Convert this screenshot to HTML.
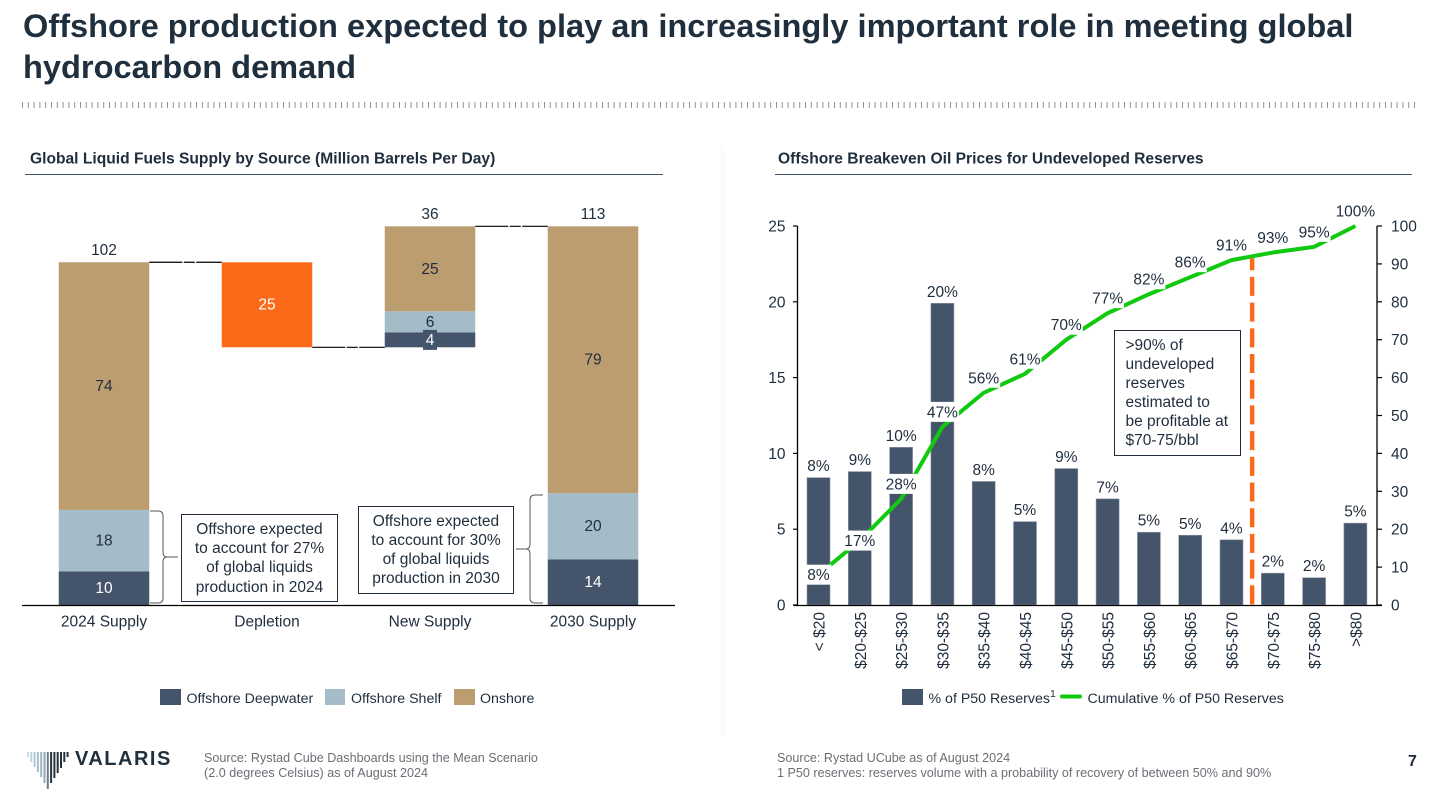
<!DOCTYPE html>
<html lang="en">
<head>
<meta charset="utf-8">
<title>Offshore production</title>
<style>
html,body{margin:0;padding:0;background:#fff;width:1438px;height:801px;overflow:hidden}
svg{display:block;font-family:"Liberation Sans",Arial,sans-serif}
.t{fill:#1f2d3d;font-size:15.5px}
.lg{fill:#1f2d3d;font-size:14.2px}
.src{fill:#6a6f75;font-size:12.6px}
</style>
</head>
<body>
<svg id="page" xmlns="http://www.w3.org/2000/svg" width="1438" height="801" viewBox="0 0 1438 801">
  <defs>
    <pattern id="tickpat" width="5.8" height="6" patternUnits="userSpaceOnUse" x="22" y="102"><rect width="1" height="6" fill="#8f8f8f"/></pattern>
  </defs>
  <rect width="1438" height="801" fill="#fff"/>
  <rect x="720" y="146" width="6" height="590" fill="#fcfcfc"/>
  <g font-weight="700" font-size="32.6px" fill="#1f2f3d">
    <text x="23" y="37">Offshore production expected to play an increasingly important role in meeting global</text>
    <text x="23" y="78">hydrocarbon demand</text>
  </g>
  <rect x="22" y="102" width="1396" height="6" fill="url(#tickpat)"/>

  <text x="30" y="163.500" font-weight="700" font-size="15.6px" fill="#1f2d3d">Global Liquid Fuels Supply by Source (Million Barrels Per Day)</text>
  <rect x="25" y="174" width="638" height="1" fill="#44546a"/>
  <text x="778" y="163.500" font-weight="700" font-size="15.6px" fill="#1f2d3d">Offshore Breakeven Oil Prices for Undeveloped Reserves</text>
  <rect x="775" y="174" width="637" height="1" fill="#44546a"/>

  <g id="left-chart"></g>
  <g id="right-chart"></g>

  <g>
    <path d="M150 511 H158 Q163 511 163 516 V552 Q163 557 167 557 H178 M167 557 Q163 557 163 562 V598 Q163 603 158 603 H150" fill="none" stroke="#555" stroke-width="1"/>
    <path d="M543 495 H535 Q530 495 530 500 V544 Q530 549 526 549 H516 M526 549 Q530 549 530 554 V598 Q530 603 535 603 H543" fill="none" stroke="#555" stroke-width="1"/>
    <rect x="181.500" y="514.500" width="156" height="87" fill="#fff" stroke="#1f2d3d" stroke-width="1"/>
    <text class="t" text-anchor="middle"><tspan x="259.500" y="534">Offshore expected</tspan><tspan x="259.500" y="553">to account for 27%</tspan><tspan x="259.500" y="572">of global liquids</tspan><tspan x="259.500" y="592">production in 2024</tspan></text>
    <rect x="358.500" y="506.500" width="155" height="87" fill="#fff" stroke="#1f2d3d" stroke-width="1"/>
    <text class="t" text-anchor="middle"><tspan x="436" y="526">Offshore expected</tspan><tspan x="436" y="545">to account for 30%</tspan><tspan x="436" y="564">of global liquids</tspan><tspan x="436" y="583">production in 2030</tspan></text>
  </g>

  <g>
    <rect x="160" y="689" width="21" height="16" fill="#44546a"/>
    <text class="lg" x="186.500" y="703">Offshore Deepwater</text>
    <rect x="325" y="689" width="20" height="16" fill="#a4bcc8"/>
    <text class="lg" x="351" y="703">Offshore Shelf</text>
    <rect x="454" y="689" width="21" height="16" fill="#bc9d6f"/>
    <text class="lg" x="480" y="703">Onshore</text>
  </g>
  <g>
    <rect x="902" y="689" width="21" height="16" fill="#44546a"/>
    <text class="lg" x="928.500" y="703">% of P50 Reserves</text>
    <text x="1050" y="697" font-size="10.500px" fill="#1f2d3d">1</text>
    <line x1="1062" y1="696.500" x2="1080" y2="696.500" stroke="#11c90f" stroke-width="4" stroke-linecap="round"/>
    <text class="lg" x="1087.500" y="703">Cumulative % of P50 Reserves</text>
  </g>

  <g>
    <g id="logo-bars"></g>
    <text x="75" y="765" font-weight="700" font-size="20px" letter-spacing="1.5" fill="#1f2f3d">VALARIS</text>
  </g>
  <text class="src"><tspan x="204" y="762">Source: Rystad Cube Dashboards using the Mean Scenario</tspan><tspan x="204" y="777">(2.0 degrees Celsius) as of August 2024</tspan></text>
  <text class="src"><tspan x="777" y="762">Source: Rystad UCube as of August 2024</tspan><tspan x="777" y="777">1 P50 reserves: reserves volume with a probability of recovery of between 50% and 90%</tspan></text>
  <text x="1408" y="766" font-weight="700" font-size="16px" fill="#1f2d3d">7</text>
</svg>
<script>
// ---- waterfall data ----
var wfCategories = ['2024 Supply', 'Depletion', 'New Supply', '2030 Supply'];
var wfDeepwater = [10, 0, 4.4, 13.6];
var wfShelf = [18.3, 0, 6.3, 19.7];
var wfOnshore = [73.7, 0, 25.3, 79.4];
var wfDepletion = [0, 25.3, 0, 0];
var wfShowTotal = [true, false, true, true];
var wfResetBase = [true, false, false, true];

// ---- breakeven data ----
var beCategories = ['< $20', '$20-$25', '$25-$30', '$30-$35', '$35-$40', '$40-$45', '$45-$50', '$50-$55', '$55-$60', '$60-$65', '$65-$70', '$70-$75', '$75-$80', '>$80'];
var beBars = [8.4, 8.8, 10.4, 19.9, 8.15, 5.5, 9.0, 7.0, 4.8, 4.6, 4.3, 2.1, 1.8, 5.4];
var beBarLabels = ['8%', '9%', '10%', '20%', '8%', '5%', '9%', '7%', '5%', '5%', '4%', '2%', '2%', '5%'];
var beCumulative = [8, 17, 28, 47, 56, 61, 70, 77, 82, 86.5, 91, 93, 94.5, 100];
var beCumLabels = ['8%', '17%', '28%', '47%', '56%', '61%', '70%', '77%', '82%', '86%', '91%', '93%', '95%', '100%'];
var beLeftTicks = [0, 5, 10, 15, 20, 25];
var beRightTicks = [0, 10, 20, 30, 40, 50, 60, 70, 80, 90, 100];
var beProfitableIndex = 10.5;

// ---- logo ----
var logoLengths = [5, 10, 15, 20, 25, 31, 37, 31, 26, 21, 16, 10, 5];
var logoColors = ['#c9dbe2', '#bcd2db', '#aec8d3', '#a4bfcb', '#9db8c4', '#93a9b4', '#6f7c86', '#26323e', '#26323e', '#26323e', '#26323e', '#26323e', '#26323e'];

var NS = 'http://www.w3.org/2000/svg';
function mk(parent, tag, attrs, txt) {
  var n = document.createElementNS(NS, tag);
  for (var k in attrs) n.setAttribute(k, attrs[k]);
  if (txt !== undefined) n.textContent = txt;
  parent.appendChild(n);
  return n;
}
var el;

// logo bars
var logoG = document.getElementById('logo-bars');
logoLengths.forEach(function (len, i) {
  el = mk(logoG, 'rect', { x: 27 + i * 3.3, y: 752, width: 2, height: len, fill: logoColors[i] });
  
  
});

// ---- waterfall ----
(function () {
  var g = document.getElementById('left-chart');
  var y0 = 605, pxPerUnit = 3.36, barW = 90.5;
  function xC(i) { return 104 + i * 163; }
  function yV(v) { return y0 - v * pxPerUnit; }
  var colors = { deep: '#44546a', shelf: '#a4bcc8', on: '#bc9d6f', dep: '#fa6a19' };
  var running = 0;

  wfCategories.forEach(function (cat, i) {
    var cx = xC(i), left = cx - barW / 2;
    var stack = [
      { v: wfDeepwater[i], c: colors.deep, tc: '#fff', key: 'deepwater' },
      { v: wfShelf[i], c: colors.shelf, tc: '#1f2d3d', key: 'shelf' },
      { v: wfOnshore[i], c: colors.on, tc: '#1f2d3d', key: 'onshore' }
    ];
    var base = wfResetBase[i] ? 0 : running;
    var startLevel = running;
    var endLevel;

    if (wfDepletion[i] > 0) {
      endLevel = running - wfDepletion[i];
      el = mk(g, 'rect', { x: left, y: yV(running), width: barW, height: wfDepletion[i] * pxPerUnit, fill: colors.dep });
      
      
      el = mk(g, 'text', { x: cx, y: yV(running - wfDepletion[i] / 2) + 4.5, 'text-anchor': 'middle', 'class': 't', style: 'fill:#fff' }, Math.round(wfDepletion[i]));
      
      
    } else {
      var level = base;
      stack.forEach(function (s) {
        el = mk(g, 'rect', { x: left, y: yV(level + s.v), width: barW, height: s.v * pxPerUnit, fill: s.c });
        
        
        level += s.v;
      });
      level = base;
      stack.forEach(function (s) {
        var ly = yV(level + s.v / 2) + 5;
        var small = s.v * pxPerUnit < 18;
        if (small) {
          el = mk(g, 'rect', { x: cx - 7, y: yV(level + s.v / 2) - 10, width: 14, height: 20, fill: s.c });
          
          
        }
        el = mk(g, 'text', { x: cx, y: ly, 'text-anchor': 'middle', 'class': 't', style: 'fill:' + s.tc }, Math.round(s.v));
        
        
        level += s.v;
      });
      endLevel = level;
      if (wfShowTotal[i]) {
        el = mk(g, 'text', { x: cx, y: yV(level) - 7.5, 'text-anchor': 'middle', 'class': 't' }, Math.round(level - base));
        
        
      }
    }

    // connector from the previous bar
    if (i > 0) {
      var cy = wfDepletion[i] > 0 ? yV(startLevel) : yV(wfResetBase[i] ? endLevel : startLevel);
      el = mk(g, 'line', { x1: xC(i - 1) + barW / 2, x2: left, y1: cy, y2: cy, stroke: '#000', 'stroke-width': 1.2, 'stroke-dasharray': '33 1.500 11 1.500' });
      
      
    }

    // category label
    el = mk(g, 'text', { x: cx, y: 626.500, 'text-anchor': 'middle', 'class': 't' }, cat);
    
    

    running = endLevel;
  });

  el = mk(g, 'line', { x1: 22, x2: 675, y1: y0 + .5, y2: y0 + .5, stroke: '#000', 'stroke-width': 1.3 });
  
  
})();

// ---- breakeven chart ----
(function () {
  var g = document.getElementById('right-chart');
  var y0 = 605, yTop = 226, xL = 797.5, xR = 1377, barW = 23;
  function xC(i) { return 818.5 + i * 41.3; }
  function yBar(v) { return y0 - v / 25 * (y0 - yTop); }
  function yCum(v) { return y0 - v / 100 * (y0 - yTop); }

  beBars.forEach(function (v, i) {
    el = mk(g, 'rect', { x: xC(i) - barW / 2, y: yBar(v), width: barW, height: y0 - yBar(v), fill: '#44546a', stroke: '#8e97a4', 'stroke-width': .6 });
    
    
    el = mk(g, 'text', { x: xC(i), y: yBar(v) - 6.5, 'text-anchor': 'middle', 'class': 't' }, beBarLabels[i]);
    
    
  });

  var pts = beCumulative.map(function (v, i) { return xC(i) + ',' + yCum(v); }).join(' ');
  el = mk(g, 'polyline', { points: pts, fill: 'none', stroke: '#11c90f', 'stroke-width': 4, 'stroke-linejoin': 'round' });
  
  

  var dashX = xC(beProfitableIndex);
  var dashTop = yCum(91.5);
  el = mk(g, 'line', { x1: dashX, x2: dashX, y1: dashTop, y2: y0, stroke: '#f96b1a', 'stroke-width': 4.5, 'stroke-dasharray': '19 6.7', 'stroke-dashoffset': 7 });
  
  

  beCumulative.forEach(function (v, i) {
    var cy = i < 2 ? yCum(v) : yCum(v) - 15;
    var w = beCumLabels[i].length * 7 + 12;
    el = mk(g, 'rect', { x: xC(i) - w / 2, y: cy - 10, width: w, height: 20, fill: '#fff' });
    
    
    el = mk(g, 'text', { x: xC(i), y: cy + 5.500, 'text-anchor': 'middle', 'class': 't' }, beCumLabels[i]);
    
    
  });

  beCategories.forEach(function (c, i) {
    el = mk(g, 'text', { x: 0, y: 0, 'text-anchor': 'end', 'class': 't', transform: 'translate(' + (xC(i) + 6) + ',612) rotate(-90)' }, c);
    
    
  });

  // axes
  el = mk(g, 'line', { x1: xL, x2: xL, y1: yTop, y2: y0, stroke: '#000', 'stroke-width': 1.3 });
  
  
  el = mk(g, 'line', { x1: xR, x2: xR, y1: yTop, y2: y0, stroke: '#000', 'stroke-width': 1.3 });
  
  
  el = mk(g, 'line', { x1: xL - 4, x2: xR + 5, y1: y0 + .5, y2: y0 + .5, stroke: '#000', 'stroke-width': 1.3 });
  
  

  beLeftTicks.forEach(function (t) {
    el = mk(g, 'line', { x1: xL - 4.5, x2: xL, y1: yBar(t), y2: yBar(t), stroke: '#000', 'stroke-width': 1.2 });
    
    
    el = mk(g, 'text', { x: 785.5, y: yBar(t) + 5.5, 'text-anchor': 'end', 'class': 't' }, t);
    
    
  });
  beRightTicks.forEach(function (t) {
    el = mk(g, 'line', { x1: xR, x2: xR + 5, y1: yCum(t), y2: yCum(t), stroke: '#000', 'stroke-width': 1.2 });
    
    
    el = mk(g, 'text', { x: 1391, y: yCum(t) + 5.5, 'class': 't' }, t);
    
    
  });

  // callout
  el = mk(g, 'rect', { x: 1114.5, y: 330.5, width: 126, height: 125, fill: '#fff', stroke: '#1f2d3d', 'stroke-width': 1 });
  
  
  ['>90% of', 'undeveloped', 'reserves', 'estimated to', 'be profitable at', '$70-75/bbl'].forEach(function (line, i) {
    el = mk(g, 'text', { x: 1125.5, y: 350 + i * 19, 'class': 't' }, line);
    
    
  });
})();
</script>
</body>
</html>
